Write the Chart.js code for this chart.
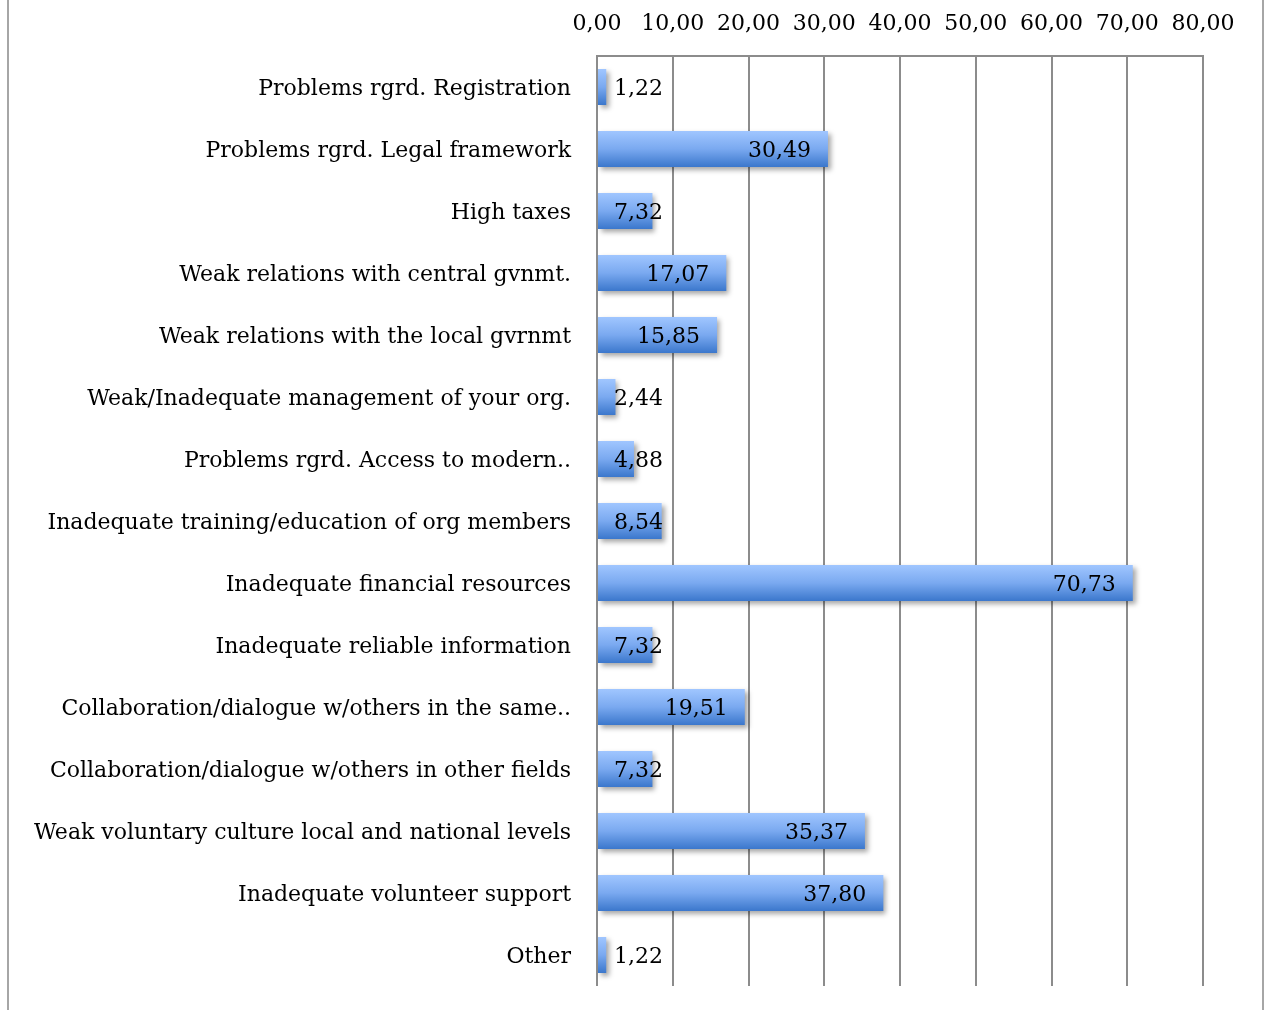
<!DOCTYPE html>
<html>
<head>
<meta charset="utf-8">
<script src="https://cdn.jsdelivr.net/npm/chart.js@4"></script>
<style>
  html, body { margin: 0; padding: 0; background: #fff; }
  #wrap { position: relative; width: 1265px; height: 1010px; }
</style>
</head>
<body>
<div id="wrap"><canvas id="problemsChart" width="1265" height="1010"></canvas></div>
<script>
const categories = [
    'Problems rgrd. Registration',
    'Problems rgrd. Legal framework',
    'High taxes',
    'Weak relations with central gvnmt.',
    'Weak relations with the local gvrnmt',
    'Weak/Inadequate management of your org.',
    'Problems rgrd. Access to modern..',
    'Inadequate training/education of org members',
    'Inadequate financial resources',
    'Inadequate reliable information',
    'Collaboration/dialogue w/others in the same..',
    'Collaboration/dialogue w/others in other fields',
    'Weak voluntary culture local and national levels',
    'Inadequate volunteer support',
    'Other'
];
const percentages = [1.22, 30.49, 7.32, 17.07, 15.85, 2.44, 4.88, 8.54, 70.73, 7.32, 19.51, 7.32, 35.37, 37.80, 1.22];
const axisMin = 0;
const axisMax = 80;
const axisStep = 10;

const FONT = '"DejaVu Serif", serif';
const FONT_SIZE = 22;
const fmt = v => Number(v).toFixed(2).replace('.', ',');

const ctx = document.getElementById('problemsChart').getContext('2d');

// gradient per bar, shadow under the bars, and the value labels
const barExtras = {
    id: 'barExtras',
    beforeDatasetsDraw(chart) {
        const c = chart.ctx;
        chart.getDatasetMeta(0).data.forEach(bar => {
            const half = bar.height / 2;
            const g = c.createLinearGradient(0, bar.y - half, 0, bar.y + half);
            g.addColorStop(0, '#a0c6ff');
            g.addColorStop(0.5, '#7aa9f0');
            g.addColorStop(1, '#3b77cc');
            bar.options.backgroundColor = g;
        });
        c.save();
        c.shadowColor = 'rgba(0,0,0,0.35)';
        c.shadowBlur = 5;
        c.shadowOffsetX = 3;
        c.shadowOffsetY = 3;
    },
    afterDatasetsDraw(chart) {
        const c = chart.ctx;
        c.restore();
        const meta = chart.getDatasetMeta(0);
        c.save();
        c.font = FONT_SIZE + 'px ' + FONT;
        c.fillStyle = '#000';
        c.textBaseline = 'middle';
        c.textAlign = 'left';
        meta.data.forEach((bar, i) => {
            const txt = fmt(percentages[i]);
            const w = c.measureText(txt).width;
            const x = Math.max(bar.base + 16, bar.x - 17 - w);
            c.fillText(txt, x, bar.y + 2);
        });
        c.restore();
    },
    afterDraw(chart) {
        const c = chart.ctx;
        c.save();
        c.strokeStyle = '#a6a6a6';
        c.lineWidth = 2;
        c.beginPath();
        c.moveTo(8, 0); c.lineTo(8, chart.height);
        c.moveTo(1263, 0); c.lineTo(1263, chart.height);
        c.stroke();
        c.restore();
    }
};

const chart = new Chart(ctx, {
    type: 'bar',
    data: {
        labels: categories,
        datasets: [{
            data: percentages,
            // scriptable so every bar gets its own options object
            backgroundColor: () => '#6a9be6',
            borderWidth: 0,
            barPercentage: 0.58,
            categoryPercentage: 1
        }]
    },
    options: {
        indexAxis: 'y',
        responsive: false,
        animation: false,
        layout: { padding: { left: 0, right: 62, top: 0, bottom: 24 } },
        plugins: {
            legend: { display: false },
            tooltip: { enabled: false }
        },
        scales: {
            x: {
                position: 'top',
                min: axisMin,
                max: axisMax,
                afterFit: s => { s.height = 56; },
                grid: { color: '#8c8c8c', lineWidth: 2, drawTicks: false },
                border: { color: '#8c8c8c', width: 2 },
                ticks: {
                    stepSize: axisStep,
                    color: '#000',
                    padding: 19,
                    maxRotation: 0,
                    font: { family: FONT, size: FONT_SIZE },
                    callback: v => fmt(v)
                }
            },
            y: {
                afterFit: s => { s.width = 597; s.paddingTop = 0; s.paddingBottom = 0; },
                grid: { display: false, drawTicks: false },
                border: { display: false },
                ticks: {
                    color: '#000',
                    padding: 26,
                    labelOffset: 2,
                    autoSkip: false,
                    font: { family: FONT, size: FONT_SIZE }
                }
            }
        }
    },
    plugins: [barExtras]
});
</script>
</body>
</html>
